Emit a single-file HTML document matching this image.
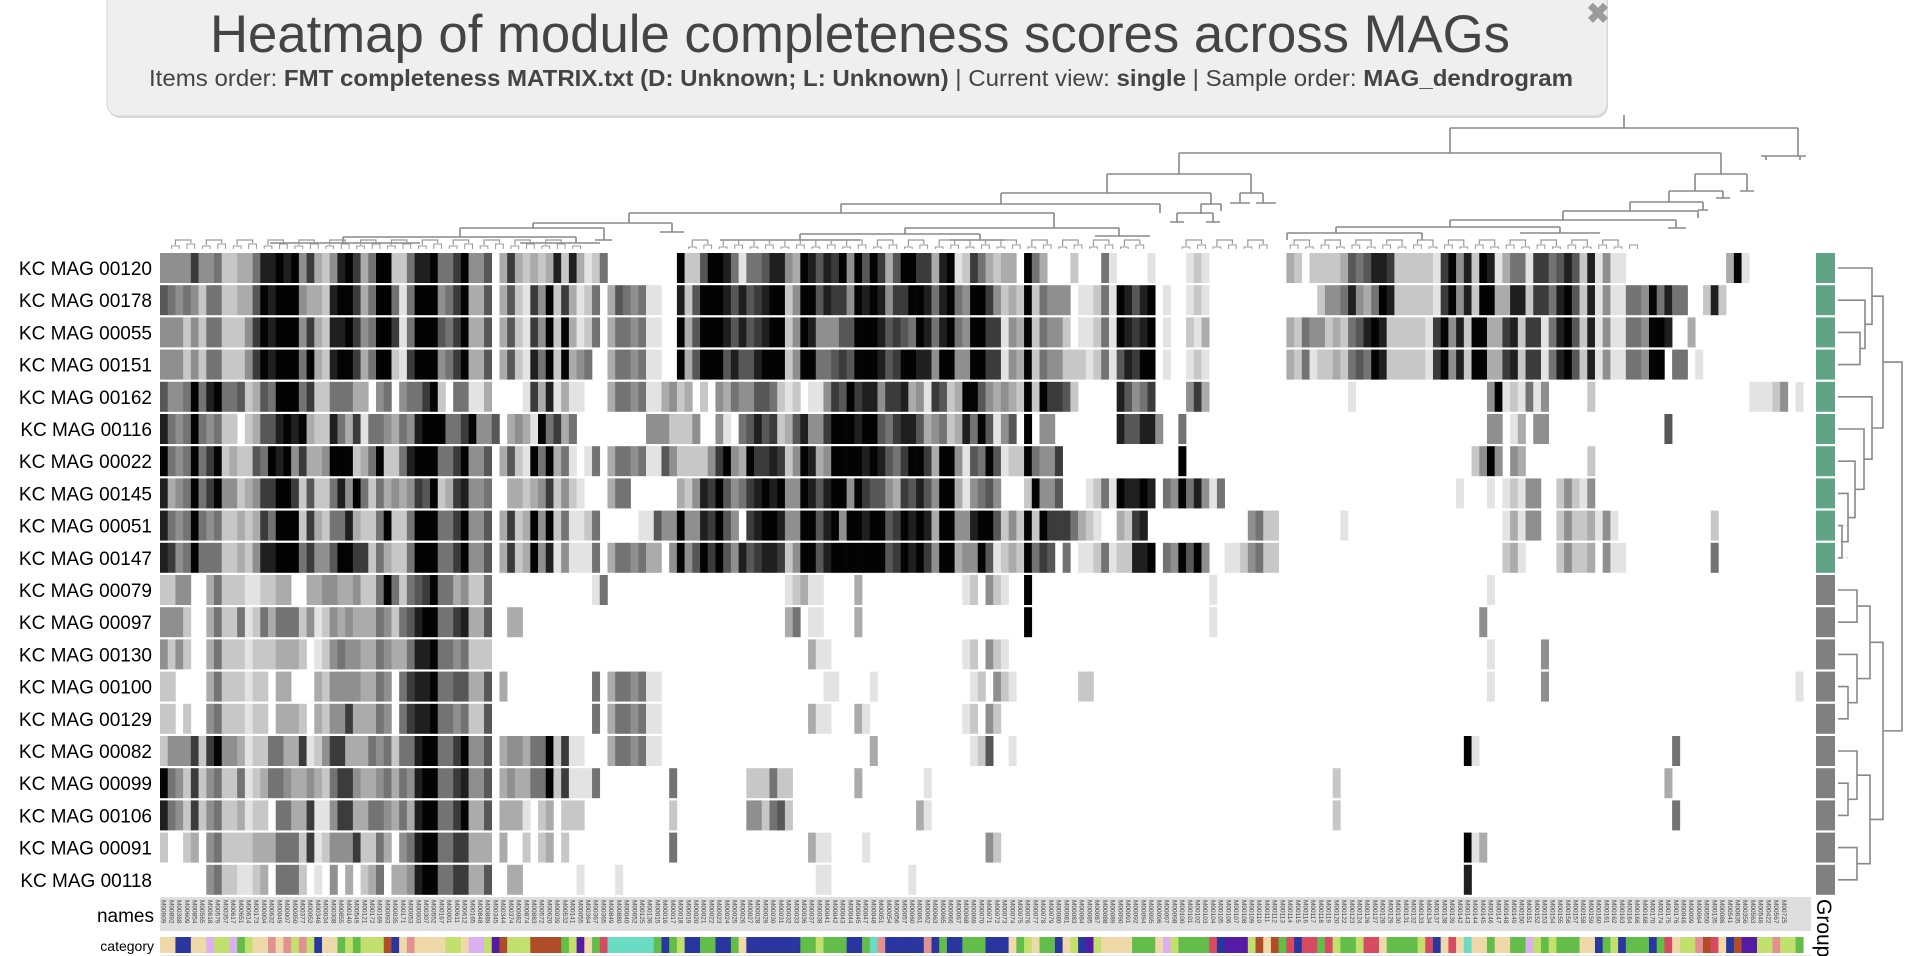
<!DOCTYPE html>
<html><head><meta charset="utf-8"><title>Heatmap of module completeness scores across MAGs</title>
<style>
html,body{margin:0;padding:0;background:#fff;width:1922px;height:956px;overflow:hidden}
svg{display:block}
text{font-family:"Liberation Sans",sans-serif}
</style></head>
<body>
<svg id="chart" width="1922" height="956" viewBox="0 0 1922 956" xmlns="http://www.w3.org/2000/svg">
  <g id="title-tab">
    <rect x="739" y="-6" width="180" height="24" rx="6" fill="#e4e4e4"/>
    <text x="829" y="14" font-size="14" fill="#c9c9c9" text-anchor="middle">▼ TITLE</text>
  </g>
  <g>
    <rect x="108" y="-14" width="1500" height="132" rx="12" fill="#d8d8d8"/>
    <rect x="107" y="-14" width="1500" height="130" rx="12" fill="#efefef" stroke="#d6d6d6" stroke-width="1"/>
    <text x="860" y="52" font-size="53" fill="#444" text-anchor="middle" textLength="1300" lengthAdjust="spacingAndGlyphs">Heatmap of module completeness scores across MAGs</text>
    <text x="861" y="86" font-size="23" fill="#444" text-anchor="middle" textLength="1424" lengthAdjust="spacingAndGlyphs">Items order: <tspan font-weight="bold">FMT completeness MATRIX.txt (D: Unknown; L: Unknown)</tspan> | Current view: <tspan font-weight="bold">single</tspan> | Sample order: <tspan font-weight="bold">MAG_dendrogram</tspan></text>
    <text x="1598" y="23" font-size="28" font-weight="bold" fill="#9a9a9a" text-anchor="middle">✖</text>
  </g>
  <g id="top-dendro" stroke="#888" stroke-width="1.6" fill="none">
    <path d="M1624 115V128 M1450 128H1798 M1450 128V153 M1179 153H1721 M1798 128V156 M1761 156H1806 M1766 156V160 M1800 156V160 M1179 153V174 M1107 174H1251 M1721 153V174 M1695 174H1747 M1107 174V193 M1001 193H1211 M1251 174V193 M1240 193H1263 M1240 193V203 M1263 193V203 M1230 203H1250 M1256 203H1276 M1001 193V204 M841 204H1160 M1211 193V204 M1201 204H1221 M1201 204V214 M1221 204V211 M841 204V213 M629 213H1054 M1160 204V213 M1177 213H1213 M1177 213V222 M1213 213V222 M1170 222H1184 M1206 222H1220 M629 213V223 M533 223H672 M1054 213V228 M905 228H1119 M533 223V228 M460 228H604 M672 223V232 M660 232H684 M460 228V237 M343 237H576 M604 228V240 M595 240H612 M905 228V234 M800 234H980 M1119 228V236 M1095 236H1150 M800 234V240 M720 240H860 M980 234V240 M950 240H1005 M343 237V243 M270 243H420 M576 237V243 M520 243H600 M1695 174V191 M1669 191H1723 M1747 174V191 M1740 191H1754 M1669 191V202 M1630 202H1703 M1723 191V198 M1716 198H1730 M1703 202V210 M1698 210H1708 M1630 202V211 M1563 211H1698 M1563 211V220 M1450 220H1676 M1698 211V218 M1676 220V228 M1668 228H1686 M1450 220V227 M1336 227H1560 M1560 227V233 M1520 233H1600 M1336 227V233 M1287 233H1422 M1287 233V240 M1422 233V240"/>
    <g id="leaf-brackets" stroke="#999"></g>
  </g>
  <g id="row-labels"></g>
  <g id="cells"></g>
  <rect x="160" y="897" width="1651" height="34" fill="#dedede"/>
  <g id="col-labels"></g>
  <g id="cat-row"></g>
  <rect x="160" y="955" width="1651" height="2" fill="#e6e6e6"/>
  <text x="154" y="922" font-size="19" fill="#000" text-anchor="end">names</text>
  <text x="154" y="951" font-size="14" fill="#000" text-anchor="end">category</text>
  <g id="group-col"></g>
  <text transform="translate(1817,899) rotate(90)" font-size="21" fill="#000">Group</text>
  <g id="row-dendro"></g>
</svg>
<script>
// ---- data ----
const rowNames = ["KC MAG 00120","KC MAG 00178","KC MAG 00055","KC MAG 00151","KC MAG 00162","KC MAG 00116","KC MAG 00022","KC MAG 00145","KC MAG 00051","KC MAG 00147","KC MAG 00079","KC MAG 00097","KC MAG 00130","KC MAG 00100","KC MAG 00129","KC MAG 00082","KC MAG 00099","KC MAG 00106","KC MAG 00091","KC MAG 00118"];
const rowGroups = ["A","A","A","A","A","A","A","A","A","A","B","B","B","B","B","B","B","B","B","B"];
const valuesA = [
"444474452233588989473248973599225889557944603732323828312500",
"654542552233698999433289973599515999457933603621749273125036",
"444242552224798999473288974599715999657933603621749293125035",
"444242552224798999593289973599217999457933603621859293450035",
"644595895562365999572255533045045579205511300001738131100035",
"854595452202366898932285371554354899955794460343195735000000",
"954595792322659894733499923592258999557944603621959351015035",
"834595794423477997262258495253434769237844500332347242100035",
"854595452232375999273255832259225999557944603723949251125000",
"874595552232488999574469977253225999557944603723948141115035",
"224400352221122330033443342259525679553422500000000000001500",
"444200352251253555241243433354256899557833600330000000000000",
"424200352221222333201245443354335889554522200000000000000000",
"220000352221220330003244443354057889556633603000000000005035",
"220200452221220333203244733354057889554522600000000000005035",
"244472794431225533712477333545255899557944603443559271100035",
"954272452251235543343257743345354899557844603433559271115000",
"854272452231220553371147733554353899557933603331023022200000",
"200230452222333555271244472253045899557733303002023020000000",
"000000452211230555201040302350334899557733600330000000100001"];
const valuesB = [
"000000092269985155688439868794969736997738912753233095300020",
"545110082699986867899249968774989847799858954997423292544401",
"545110093699986867899249844466999867659858954997714392544201",
"545110093699968668999249955676999867998849944997714392544222",
"545113423020435446652120114769788477834176239964343292977620",
"000444222400410568672368447999899657886345238596146090440000",
"545116422224794397787249834999989865799739941659612295447000",
"500000032487964578989449868994976643768649931456400029446000",
"001164494487964078998449968949989967989839944899624292977753",
"545330494697964867887249968999999967989749934496123295760501",
"000000000000000000000123110000300000000000001204210090000000",
"000000000000000000000350110000300000000000000000000090000000",
"000000000000000000000000311000000000000000001204210000000000",
"545110000000000000000000001100001000000000000120421000000002",
"545110000000000000000000311000310000000000001204200000000000",
"545110000000000000000000000000003000000000000126001000000000",
"000000500000000022252200000000300000000100000000000000000000",
"000000200000000044256200000000000000003100000000000000000000",
"000000500000000000000000311000010000000000000004200000000000",
"000000000000000000000000011000000000010000000000000000000000"];
const valuesC = [
"005100001000012100000000003202222365688722222179482981355177",
"125198689010012100000000000000244584359822222179482993388277",
"125198789010021300000000003254423256898222221794829933782771",
"125168799010012100000000003251223256598222221794829933782771",
"000086457000047300000000000000000010000000000000000049121514",
"000086688400500000000000000000000000000000000000000044013044",
"000000000000900000000000000000000000000000000000002494043000",
"125198898054958415000000000000000000000000000000100010121440",
"210032780000000000000452200000000100000000000000000000131440",
"125122889054969400112452200000000000000000000000000000231000",
"000000000000000010000000000000000000000000000000000010000000",
"000000000000000010000000000000000000000000000000000400000000",
"000000000000000000000000000000000000000000000000000010000004",
"200000000000000000000000000000000000000000000000000010000004",
"000000000000000000000000000000000000000000000000000000000000",
"000000000000000000000000000000000000000000000000091000000000",
"000000000000000000000000000000002000000000000000000000000000",
"000000000000000000000000000000002000000000000000000000000000",
"000000000000000000000000000000000000000000000000091300000000",
"000000000000000000000000000000000000000000000000080000000000"];
const valuesD = [
"5686281411000000000000039100000000",
"5896281411554958550028200000000000",
"5896281411554998003000000000000000",
"5896281411554990550100000000000000",
"0000020000000000000000000011124010",
"0000000000000006000000000000000000",
"0000020000000000000000000000000000",
"0242140000000000000000000000000000",
"0242231410000000000002000000000000",
"0242230411000000000005000000000000",
"0000000000000000000000000000000000",
"0000000000000000000000000000000000",
"0000000000000000000000000000000000",
"0000000000000000000000000000000010",
"0000000000000000000000000000000000",
"0000000000000000500000000000000000",
"0000000000000003000000000000000000",
"0000000000000000500000000000000000",
"0000000000000000000000000000000000",
"0000000000000000000000000000000000"];
const categoryCodes = "aabbaacddcedaafafdfdbaaededddgbafaaaaddaccdigdddggggediaejhhhhhhebedb" +
  "beebbeabbbbbbbeedeeebbehfbbbbbfbebbeeebbbaedaeebadbidaaaaeeeacdeeeejbiiid" +
  "gagejbjjejdeedjjaeeeedjbajahaaeaaeecdedeeeaabedbeeebejaddfgjabgiiddfdde";
const categoryColors = {a:"#f0d9a9",b:"#2a36a0",c:"#dcb0f0",d:"#c2e06c",e:"#62be48",f:"#e39090",g:"#b04c28",h:"#6adcc4",i:"#551aa6",j:"#d84a60"};
const colNames = ("M00909 M00892 M00368 M00609 M00854 M00565 M00618 M00579 M00357 M00617 M00651 M00614 M00173 M00004 M00632 M00049 M00007 M00050 M00377 M00052 M00346 M00034 M00308 M00855 M00140 M00549 M00121 M00172 M00169 M00093 M00035 M00171 M00053 M00003 M00307 M00552 M00167 M00001 M00611 M00612 M00165 M00848 M00889 M00345 M00344 M00374 M00082 M00874 M00883 M00572 M00620 M00039 M00532 M00141 M00055 M00364 M00367 M00365 M00849 M00880 M00040 M00652 M00125 M00136 " +
  "M00015 M00016 M00017 M00018 M00019 M00020 M00021 M00022 M00023 M00024 M00025 M00026 M00027 M00028 M00029 M00030 M00031 M00032 M00033 M00036 M00037 M00038 M00041 M00042 M00043 M00044 M00045 M00047 M00048 M00051 M00054 M00056 M00057 M00060 M00061 M00062 M00063 M00065 M00066 M00067 M00068 M00069 M00070 M00071 M00072 M00073 M00074 M00075 M00076 M00077 M00078 M00079 M00080 M00081 M00083 M00084 M00085 M00087 M00088 M00089 M00090 M00091 M00092 M00094 M00095 M00096 M00097 M00098 M00100 M00101 M00102 M00103 M00104 M00105 M00106 M00107 M00108 M00109 M00110 M00111 M00112 M00113 M00114 M00115 M00116 M00117 M00118 M00119 M00120 M00122 M00123 M00124 M00126 M00127 M00128 M00129 M00130 M00131 M00132 M00133 M00134 M00137 M00138 M00139 M00142 M00143 M00144 M00145 M00146 M00147 M00148 M00149 M00150 M00151 M00152 M00153 M00154 M00155 M00156 M00157 M00158 M00159 M00160 M00161 M00162 M00163 M00164 M00166 M00168 M00170 M00174 M00175 M00176 " +
  "M00046 M00099 M00064 M00550 M00135 M00086 M00541 M00835 M00356 M00563 M00546 M00422 M00567 M00725").split(" ");

// ---- layout / scales ----
const NCOL = 214;
const X0 = 160, X1 = 1811;
const CW = (X1 - X0) / NCOL;
const Y0 = 253, PITCH = 32.2, RH = 30;
const NS = "http://www.w3.org/2000/svg";
const xScale = c => X0 + c * CW;
const yScale = r => Y0 + r * PITCH;
const grayOf = v => { const g = Math.round(255 - v * 28); return "rgb(" + g + "," + g + "," + g + ")"; };
function mk(tag, attrs, parent) { const e = document.createElementNS(NS, tag); for (const k in attrs) e.setAttribute(k, attrs[k]); parent.appendChild(e); return e; }

const rowValues = rowNames.map((n, r) => (valuesA[r] + valuesB[r] + valuesC[r] + valuesD[r]).padEnd(NCOL, "0").slice(0, NCOL).split("").map(Number));

const cells = document.getElementById("cells");
const labels = document.getElementById("row-labels");
rowNames.forEach((name, r) => {
  const t = mk("text", {x: 152, y: yScale(r) + RH / 2 + 7, "font-size": 19, "text-anchor": "end", fill: "#000"}, labels);
  
  
  t.textContent = name;
  rowValues[r].forEach((v, c) => {
    if (v === 0) return;
    const rc = mk("rect", {x: xScale(c).toFixed(2), y: yScale(r).toFixed(2), width: (CW + 0.3).toFixed(2), height: RH, fill: grayOf(v)}, cells);
    
    
  });
});

const colG = document.getElementById("col-labels");
colNames.slice(0, NCOL).forEach((n, c) => {
  const cx = xScale(c) + CW / 2 - 2.2;
  const t = mk("text", {transform: "translate(" + cx.toFixed(2) + ",900) rotate(90)", "font-size": 6.5, fill: "#444", "font-family": "Liberation Mono, monospace"}, colG);
  
  
  t.textContent = n;
});

const catG = document.getElementById("cat-row");
categoryCodes.split("").slice(0, NCOL).forEach((code, c) => {
  const rc = mk("rect", {x: xScale(c).toFixed(2), y: 937, width: (CW + 0.3).toFixed(2), height: 16, fill: categoryColors[code] || "#ccc"}, catG);
  
  
});

const grpG = document.getElementById("group-col");
rowGroups.forEach((g, r) => {
  const rc = mk("rect", {x: 1816, y: yScale(r), width: 19, height: RH, fill: g === "A" ? "#60a487" : "#808080"}, grpG);
  
  
});

// top dendrogram leaf brackets
const leafG = document.getElementById("leaf-brackets");
const leafRanges = [[1, 55], [68, 128], [132, 143], [146, 192]];
leafRanges.forEach(([a, b]) => {
  for (let c = a; c + 1 <= b; c += 2) {
    const xa = xScale(c) + CW / 2, xb = xScale(c + 1) + CW / 2;
    const yb = 247 - (c % 4);
    const p = mk("path", {d: "M" + xa.toFixed(1) + " 249V" + yb + "H" + xb.toFixed(1) + "V249", "stroke-width": 1}, leafG);
    
    
  }
  for (let c = a; c + 3 <= b; c += 4) {
    const xa = xScale(c + 1), xb = xScale(c + 3);
    const p = mk("path", {d: "M" + xa.toFixed(1) + " " + (246 - (c % 4)) + "V240H" + xb.toFixed(1) + "V" + (246 - ((c + 2) % 4)), "stroke-width": 1.2}, leafG);
    
    
  }
});

// row dendrogram: [left, right, joinX]
const rowTree = [[0,[1,[2,3,1860],1865],1872],[4,[5,[6,[7,[8,9,1842],1848],1855],1864],1872],[[10,11,1857],[12,[13,14,1848],1857],1870],[[15,[16,17,1848],1857],[18,19,1857],1870]];
const rd = document.getElementById("row-dendro");
function drawNode(node) {
  if (typeof node === "number") return {y: yScale(node) + RH / 2, x: 1838};
  const [l, r, jx] = node;
  const a = drawNode(l), b = drawNode(r);
  const p = mk("path", {d: "M" + a.x + " " + a.y + "H" + jx + "V" + b.y + "H" + b.x, stroke: "#888", "stroke-width": 1.6, fill: "none"}, rd);
  
  
  return {y: (a.y + b.y) / 2, x: jx};
}
rowNames.forEach((n, r) => {
  const d = mk("line", {x1: 1838, x2: 1850, y1: yScale(r) + RH / 2, y2: yScale(r) + RH / 2, stroke: "#ccc", "stroke-dasharray": "2,2"}, rd);
  
  
});
const top1 = drawNode([rowTree[0], rowTree[1], 1883]);
const top2 = drawNode([rowTree[2], rowTree[3], 1883]);
const rootP = mk("path", {d: "M1883 " + top1.y + "H1902V" + top2.y + "H1883", stroke: "#888", "stroke-width": 1.6, fill: "none"}, rd);


</script>
</body></html>
